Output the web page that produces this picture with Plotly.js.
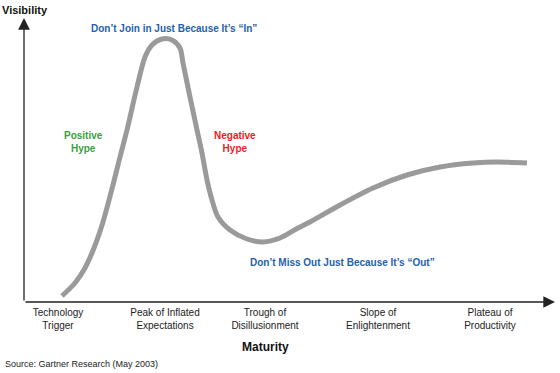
<!DOCTYPE html>
<html>
<head>
<meta charset="utf-8">
<script src="https://cdn.plot.ly/plotly-3.0.1.min.js"></script>
<style>html,body{margin:0;padding:0;background:#fff;}#chart{width:560px;height:373px;}</style>
</head>
<body>
<div id="chart"></div>
<script>
// Hype cycle curve (maturity vs visibility, arbitrary units)
const maturity = [38,51,61,70,79,89,96,103,113,121,128,138,148,156,159,166,173,178,183,188,194,206,223,239,256,274,286,316,349,383,416,449,473,503];
const visibility = [6,19,34,54,80,117,145,172,215,245,257,263,262,254,239,205,172,149,122,102,85,72,63,60,64,74,80,97,114,127,135,139,140,139];

const phaseValues = [34,141,241,354,466];
const phaseLabels = ["Technology<br>Trigger","Peak of Inflated<br>Expectations","Trough of<br>Disillusionment","Slope of<br>Enlightenment","Plateau of<br>Productivity"];

const FONT = "'Liberation Sans', Arial, Helvetica, sans-serif";
const BLUE = "#1f5fae", GREEN = "#3a9f3f", RED = "#ee1c24";

const trace = {
  x: maturity, y: visibility, type: "scatter", mode: "lines",
  line: {color: "#9a9a9a", width: 5, shape: "spline", smoothing: 0.8},
  hoverinfo: "skip"
};

const layout = {
  width: 560, height: 373,
  margin: {l: 24, r: 5, t: 18, b: 71},
  paper_bgcolor: "#fff", plot_bgcolor: "#fff",
  showlegend: false,
  font: {family: FONT, color: "#222"},
  xaxis: {range: [0, 531], showgrid: false, zeroline: false, showline: false,
          ticks: "", tickvals: phaseValues, ticktext: phaseLabels, ticklabelstandoff: 3,
          tickfont: {size: 10, color: "#222", family: FONT}, fixedrange: true},
  yaxis: {range: [0, 284], showgrid: false, zeroline: false, showline: false,
          showticklabels: false, fixedrange: true},
  annotations: [
    {x: 531, y: 0, ax: 0, ay: 0, xref: "x", yref: "y", axref: "x", ayref: "y",
     text: "", showarrow: true, arrowhead: 2, arrowsize: 1.8, arrowwidth: 1.3, arrowcolor: "#222"},
    {x: 0, y: 284, ax: 0, ay: 0, xref: "x", yref: "y", axref: "x", ayref: "y",
     text: "", showarrow: true, arrowhead: 2, arrowsize: 1.8, arrowwidth: 1.3, arrowcolor: "#222"},
    {xref: "paper", yref: "paper", x: -24/531, y: 1 + 8/284, xanchor: "left", yanchor: "middle",
     text: "<b>Visibility</b>", showarrow: false, font: {size: 11, color: "#111"}},
    {xref: "x", yref: "y", x: 150, y: 274, text: "<b>Don\u2019t Join in Just Because It\u2019s \u201cIn\u201d</b>",
     showarrow: false, font: {size: 10, color: BLUE}},
    {xref: "x", yref: "y", x: 59, y: 160, text: "<b>Positive<br>Hype</b>",
     showarrow: false, font: {size: 10, color: GREEN}},
    {xref: "x", yref: "y", x: 211, y: 160, text: "<b>Negative<br>Hype</b>",
     showarrow: false, font: {size: 10, color: RED}},
    {xref: "x", yref: "y", x: 224, y: 40, xanchor: "left", text: "<b>Don\u2019t Miss Out Just Because It\u2019s \u201cOut\u201d</b>",
     showarrow: false, font: {size: 10, color: BLUE}},
    {xref: "x", yref: "paper", x: 241, y: -45/284, yanchor: "middle", text: "<b>Maturity</b>",
     showarrow: false, font: {size: 12, color: "#111"}},
    {xref: "paper", yref: "paper", x: -21/531, y: -62/284, xanchor: "left", yanchor: "middle",
     text: "Source: Gartner Research (May 2003)", showarrow: false, font: {size: 9, color: "#222"}}
  ]
};

Plotly.newPlot("chart", [trace], layout, {displayModeBar: false, staticPlot: true});
</script>
</body>
</html>
